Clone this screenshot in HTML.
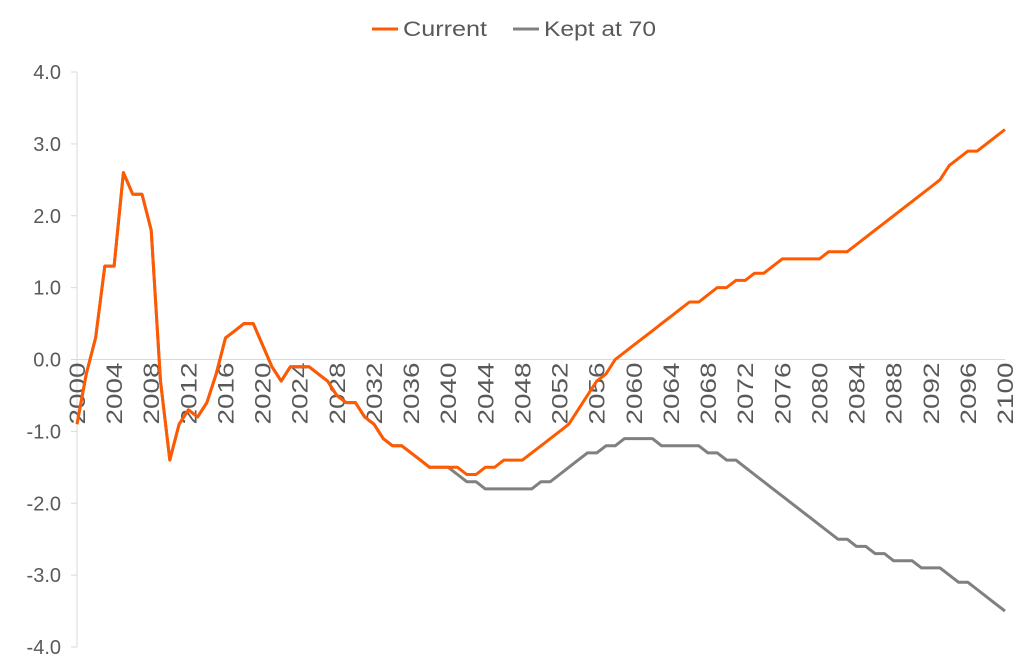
<!DOCTYPE html>
<html><head><meta charset="utf-8"><style>
body{margin:0;background:#fff;}
svg{display:block;font-family:"Liberation Sans",sans-serif;}
</style></head><body>
<svg id="chart" width="1024" height="669" viewBox="0 0 1024 669">
<g id="legend">
<g>
<line x1="372" y1="29" x2="398" y2="29" stroke="#FF5A00" stroke-width="3"/>
<text x="403" y="36" font-size="21" fill="#595959" textLength="84" lengthAdjust="spacingAndGlyphs">Current</text></g>
<g>
<line x1="513" y1="29" x2="539" y2="29" stroke="#808080" stroke-width="3"/>
<text x="544" y="36" font-size="21" fill="#595959" textLength="112" lengthAdjust="spacingAndGlyphs">Kept at 70</text></g>
</g>
<g id="axes"></g>
<g id="series"></g>
</svg>
<script>
const years = Array.from({length:101},(_,i)=>2000+i);
const yTicks = [4,3,2,1,0,-1,-2,-3,-4];
const xTickYears = [2000,2004,2008,2012,2016,2020,2024,2028,2032,2036,2040,2044,2048,2052,2056,2060,2064,2068,2072,2076,2080,2084,2088,2092,2096,2100];
const current = [-0.9,-0.2,0.3,1.3,1.3,2.6,2.3,2.3,1.8,-0.3,-1.4,-0.9,-0.7,-0.8,-0.6,-0.2,0.3,0.4,0.5,0.5,
0.2,-0.1,-0.3,-0.1,-0.1,-0.1,-0.2,-0.3,-0.5,-0.6,-0.6,-0.8,-0.9,-1.1,-1.2,-1.2,-1.3,-1.4,-1.5,-1.5,
-1.5,-1.5,-1.6,-1.6,-1.5,-1.5,-1.4,-1.4,-1.4,-1.3,-1.2,-1.1,-1.0,-0.9,-0.7,-0.5,-0.3,-0.2,0.0,0.1,
0.2,0.3,0.4,0.5,0.6,0.7,0.8,0.8,0.9,1.0,1.0,1.1,1.1,1.2,1.2,1.3,1.4,1.4,1.4,1.4,
1.4,1.5,1.5,1.5,1.6,1.7,1.8,1.9,2.0,2.1,2.2,2.3,2.4,2.5,2.7,2.8,2.9,2.9,3.0,3.1,3.2];
const kept = [-0.9,-0.2,0.3,1.3,1.3,2.6,2.3,2.3,1.8,-0.3,-1.4,-0.9,-0.7,-0.8,-0.6,-0.2,0.3,0.4,0.5,0.5,
0.2,-0.1,-0.3,-0.1,-0.1,-0.1,-0.2,-0.3,-0.5,-0.6,-0.6,-0.8,-0.9,-1.1,-1.2,-1.2,-1.3,-1.4,-1.5,-1.5,
-1.5,-1.6,-1.7,-1.7,-1.8,-1.8,-1.8,-1.8,-1.8,-1.8,-1.7,-1.7,-1.6,-1.5,-1.4,-1.3,-1.3,-1.2,-1.2,-1.1,
-1.1,-1.1,-1.1,-1.2,-1.2,-1.2,-1.2,-1.2,-1.3,-1.3,-1.4,-1.4,-1.5,-1.6,-1.7,-1.8,-1.9,-2.0,-2.1,-2.2,
-2.3,-2.4,-2.5,-2.5,-2.6,-2.6,-2.7,-2.7,-2.8,-2.8,-2.8,-2.9,-2.9,-2.9,-3.0,-3.1,-3.1,-3.2,-3.3,-3.4,-3.5];

const NS="http://www.w3.org/2000/svg";
const X0=77,X1=1005,YT=72,YB=647;
const xs=y=>X0+(y-2000)/100*(X1-X0);
const ys=v=>YT+(4-v)/8*(YB-YT);
const axes=document.getElementById('axes'), series=document.getElementById('series');
function mk(tag,attrs,parent){const e=document.createElementNS(NS,tag);for(const k in attrs)e.setAttribute(k,attrs[k]);parent.appendChild(e);return e;}

const yAxis=mk('line',{x1:X0,y1:YT,x2:X0,y2:YB,stroke:'#d9d9d9','stroke-width':1},axes);


yTicks.forEach(v=>{
  const t=mk('line',{x1:X0-6,y1:ys(v),x2:X0,y2:ys(v),stroke:'#d9d9d9'},axes);
  
  
  const l=mk('text',{x:61,y:ys(v)+7,'text-anchor':'end','font-size':20,fill:'#595959'},axes);
  l.textContent=v.toFixed(1);
  
  
});
const xAxis=mk('line',{x1:X0,y1:ys(0),x2:X1,y2:ys(0),stroke:'#d9d9d9','stroke-width':1},axes);


xTickYears.forEach(yr=>{
  const x=xs(yr)+8, y=ys(0)+3;
  const l=mk('text',{x:x,y:y,'text-anchor':'end','font-size':22,fill:'#595959',textLength:62,lengthAdjust:'spacingAndGlyphs',transform:`rotate(-90 ${x} ${y})`},axes);
  l.textContent=yr;
  
  
});
function path(vals,color,name){
  const d=vals.map((v,i)=>(i?'L':'M')+xs(years[i]).toFixed(1)+' '+ys(v).toFixed(1)).join(' ');
  const p=mk('path',{d:d,fill:'none',stroke:color,'stroke-width':3,'stroke-linejoin':'round'},series);
  
  
}
path(kept,'#808080','kept-at-70-line');
path(current,'#FF5A00','current-line');
</script>
</body></html>
